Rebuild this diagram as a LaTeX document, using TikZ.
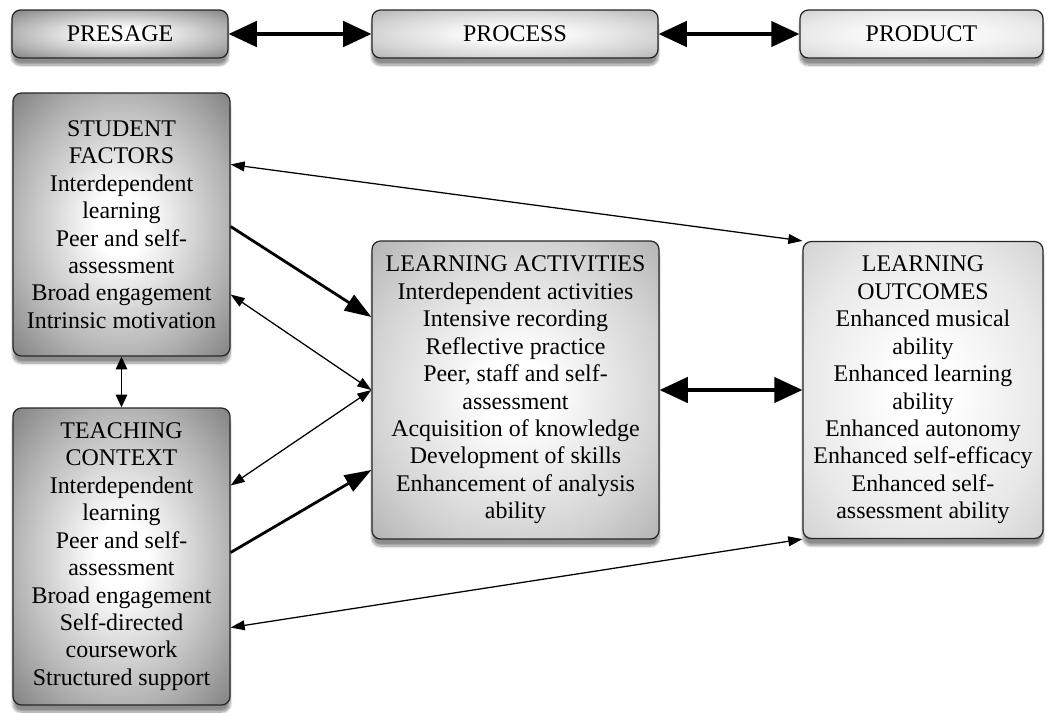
\documentclass[tikz,border=0pt]{standalone}
\usepackage{fontspec}
\setmainfont{Liberation Serif}
\usetikzlibrary{arrows.meta,shadows.blur,positioning,calc}

\pgfdeclareradialshading{darkglow}{\pgfpoint{0bp}{0bp}}{color(0bp)=(white); color(6bp)=(white); color(25bp)=(black!30); color(36bp)=(black!50); color(50bp)=(black!50)}
\pgfdeclareradialshading{midglow}{\pgfpoint{0bp}{0bp}}{color(0bp)=(white); color(6bp)=(white); color(25bp)=(black!17); color(36bp)=(black!30); color(50bp)=(black!30)}
\pgfdeclareradialshading{lightglow}{\pgfpoint{0bp}{0bp}}{color(0bp)=(white); color(6bp)=(white); color(25bp)=(black!9); color(36bp)=(black!18); color(50bp)=(black!18)}

\begin{document}
\begin{tikzpicture}
[x=0.025cm,y=-0.025cm,
 box/.style={rectangle,rounded corners=6pt,draw=black!85,line width=0.9pt,
   align=center,inner sep=0pt,text=black,
   font=\fontsize{17}{19.5}\selectfont,
   blur shadow={shadow xshift=0pt,shadow yshift=-5pt,shadow blur steps=8,shadow opacity=45}},
 dark/.style={box,shading=darkglow},
 mid/.style={box,shading=midglow},
 light/.style={box,shading=lightglow},
 bigboth/.style={{Triangle[length=20pt,width=18pt]}-{Triangle[length=20pt,width=18pt]},line width=2.5pt},
 bigone/.style={-{Triangle[length=19pt,width=13pt]},line width=2pt},
 thinboth/.style={{Triangle[length=10pt,width=7pt]}-{Triangle[length=10pt,width=7pt]},line width=0.9pt},
 midboth/.style={{Triangle[length=9pt,width=8pt]}-{Triangle[length=9pt,width=8pt]},line width=1.4pt}]
\useasboundingbox (0,0) rectangle (1047,712);

% top row
\node[dark,minimum width=216*0.025cm,minimum height=48*0.025cm] (presage) at (120,34) {PRESAGE};
\node[mid,minimum width=286*0.025cm,minimum height=48*0.025cm] (process) at (515,34) {PROCESS};
\node[light,minimum width=243*0.025cm,minimum height=48*0.025cm] (product) at (921.5,34) {PRODUCT};

% boxes
\node[dark,minimum width=217*0.025cm,minimum height=263*0.025cm] (student) at (121.5,224.5)
{STUDENT\\FACTORS\\Interdependent\\learning\\Peer and self-\\assessment\\Broad engagement\\Intrinsic motivation};
\node[dark,minimum width=217*0.025cm,minimum height=297*0.025cm] (teaching) at (121.5,556.5)
{TEACHING\\CONTEXT\\Interdependent\\learning\\Peer and self-\\assessment\\Broad engagement\\Self-directed\\coursework\\Structured support};
\node[mid,minimum width=287*0.025cm,minimum height=298*0.025cm] (activities) at (515.5,390)
{LEARNING ACTIVITIES\\Interdependent activities\\Intensive recording\\Reflective practice\\Peer, staff and self-\\assessment\\Acquisition of knowledge\\Development of skills\\Enhancement of analysis\\ability};
\node[light,minimum width=240*0.025cm,minimum height=297*0.025cm] (outcomes) at (923,390)
{LEARNING\\OUTCOMES\\Enhanced musical\\ability\\Enhanced learning\\ability\\Enhanced autonomy\\Enhanced self-efficacy\\Enhanced self-\\assessment ability};

% connectors
\draw[bigboth] (presage) -- (process);
\draw[bigboth] (process) -- (product);
\draw[thinboth] ($(student.east)+(0,-60)$) -- (outcomes.north west);
\draw[bigone] ($(student.east)+(0,2)$) -- ($(activities.west)+(0,-73)$);
\draw[thinboth] ($(student.east)+(0,70)$) -- (activities.west);
\draw[midboth] (student.south) -- (teaching.north);
\draw[thinboth] ($(teaching.east)+(0,-71)$) -- (activities.west);
\draw[bigone] ($(teaching.east)+(0,-4)$) -- ($(activities.west)+(0,80)$);
\draw[thinboth] ($(teaching.east)+(0,71)$) -- (outcomes.south west);
\draw[bigboth] (activities) -- (outcomes);
\end{tikzpicture}
\end{document}
